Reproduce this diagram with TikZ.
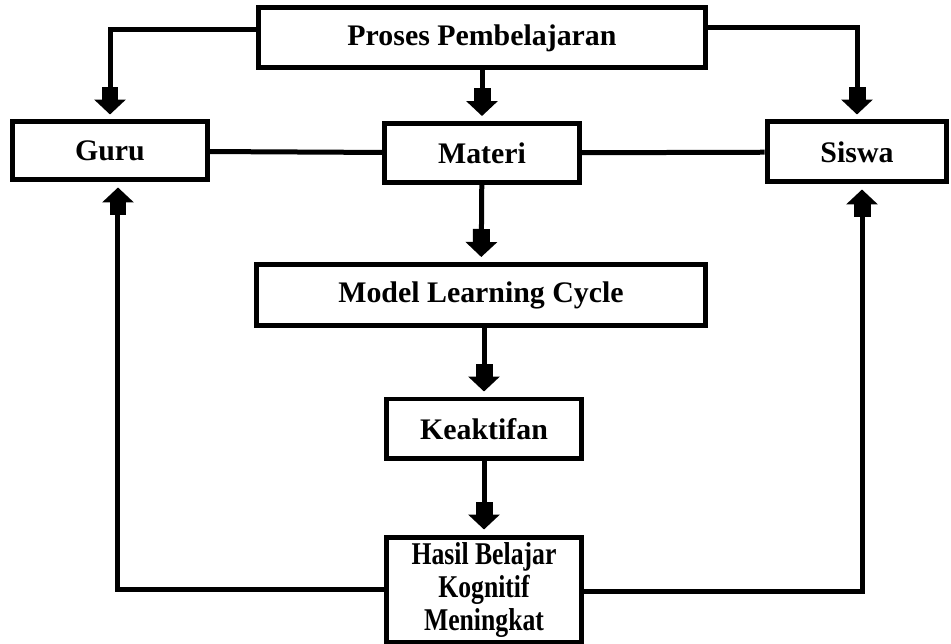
\documentclass[tikz,border=0pt]{standalone}
\usepackage{fontspec}
\setmainfont{Liberation Serif}
\usepackage{graphicx}
\usetikzlibrary{arrows.meta,positioning}
\tikzset{
    box/.style={draw, line width=0.1cm, minimum width=3.9cm, minimum height=1.18cm,
        inner sep=0pt, font=\bfseries\fontsize{17}{20}\selectfont, align=center},
    link/.style={line width=0.1cm},
    flow/.style={link, shorten >=0.1cm,
        -{Rectangle[length=0.26cm,width=0.34cm]Triangle[length=0.3cm,width=0.62cm]}},
}
\newcommand{\narrowline}[1]{\scalebox{0.86}[1.06]{#1}}

\begin{document}
\begin{tikzpicture}[x=0.02cm, y=-0.02cm]
    \useasboundingbox (0,0) rectangle (951,644);
    \node[box, minimum width=8.96cm, minimum height=1.2cm] (proses) at (482,38) {Proses Pembelajaran};
    \node[box, minimum height=1.16cm] (guru) at (110,151) {Guru};
    \node[box] (materi) at (482,153) {Materi};
    \node[box, minimum width=3.6cm, minimum height=1.2cm] (siswa) at (857,152) {Siswa};
    \node[box, minimum width=9cm, minimum height=1.22cm] (model) at (481,295) {Model Learning Cycle};
    \node[box, minimum height=1.2cm] (keaktifan) at (484,429) {Keaktifan};
    \node[box, minimum height=2.12cm] (hasil) at (484,590)
        {\narrowline{Hasil Belajar}\\[-1pt]\narrowline{Kognitif}\\[-1pt]\narrowline{Meningkat}};

    \draw[flow] ([yshift=0.16cm]proses.west) -| (guru.north);
    \draw[flow] ([yshift=0.2cm]proses.east) -| (siswa.north);
    \draw[flow] (proses) -- (materi);
    \draw[link] (guru) -- (materi);
    \draw[link] (materi) -- (siswa);
    \draw[flow] (materi) -- (model);
    \draw[flow] (model.south -| keaktifan) -- (keaktifan);
    \draw[flow] (keaktifan) -- (hasil);
    \draw[flow] (hasil.west) -| ([xshift=0.16cm]guru.south);
    \draw[flow] ([yshift=-0.04cm]hasil.east) -| ([xshift=0.1cm]siswa.south);
\end{tikzpicture}
\end{document}
